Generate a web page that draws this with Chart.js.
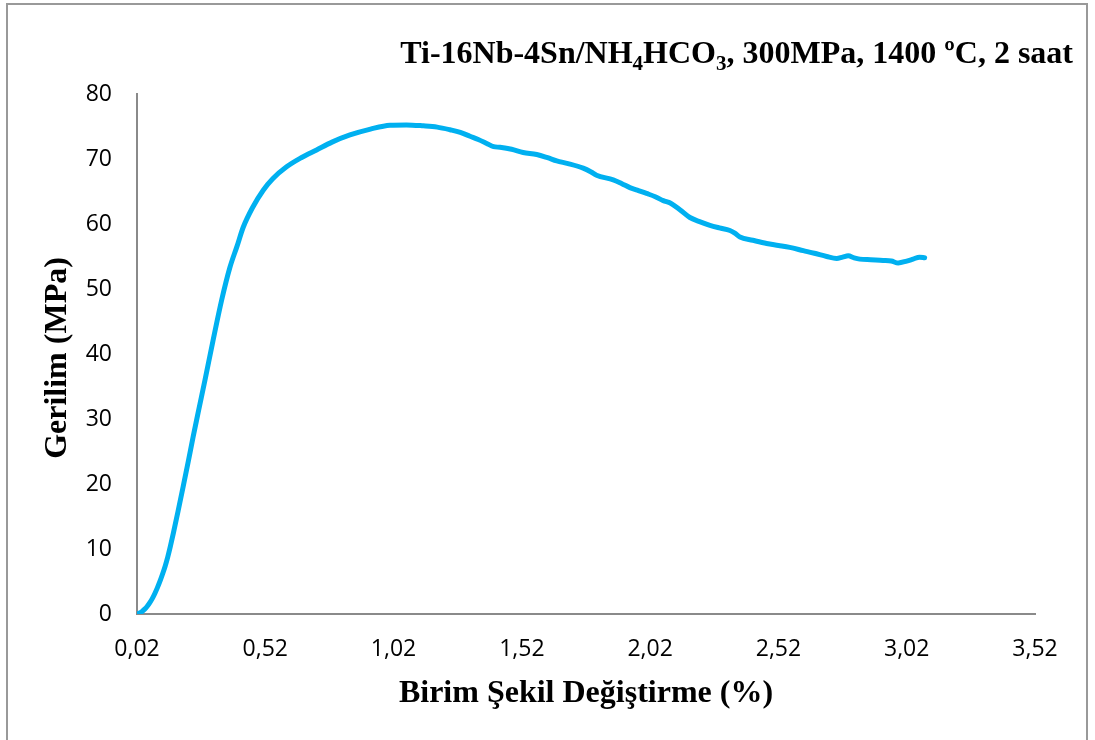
<!DOCTYPE html>
<html>
<head>
<meta charset="utf-8">
<script src="https://cdn.jsdelivr.net/npm/chart.js@4.4.1/dist/chart.umd.min.js"></script>
<style>
  html, body { margin: 0; padding: 0; background: #ffffff; }
  #wrap { width: 1095px; height: 740px; position: relative; }
</style>
</head>
<body>
<div id="wrap"><canvas id="c" width="1095" height="740"></canvas></div>
<script>
// Strain (%) and stress (MPa) readings of the compression test
const strain = [
  0.02, 0.03, 0.04, 0.05, 0.06, 0.07, 0.08, 0.09, 0.10, 0.11,
  0.12, 0.13, 0.14, 0.15, 0.1615, 0.18, 0.20,
  0.22, 0.239, 0.26, 0.285, 0.316, 0.35, 0.382, 0.41, 0.434, 0.47,
  0.512, 0.55, 0.603, 0.66, 0.72, 0.78, 0.85, 0.93, 1.006, 1.07,
  1.136, 1.19, 1.24, 1.28, 1.318, 1.35, 1.383, 1.41, 1.435, 1.48,
  1.525, 1.578, 1.62, 1.656, 1.70, 1.759, 1.79, 1.811, 1.876, 1.91,
  1.941, 1.97, 2.006, 2.04, 2.071, 2.10, 2.136, 2.175, 2.21, 2.253,
  2.29, 2.331, 2.35, 2.37, 2.42, 2.474, 2.52, 2.564, 2.617, 2.66,
  2.708, 2.747, 2.77, 2.792, 2.815, 2.837, 2.88, 2.928, 2.96, 2.987,
  3.02, 3.045, 3.07, 3.09
];
const stress = [
  0, 0.15, 0.4, 0.75, 1.2, 1.75, 2.4, 3.2, 4.1, 5.1,
  6.2, 7.4, 8.8, 10.4, 12.4, 15.8, 19.6,
  23.5, 27.3, 31.3, 36.0, 42.0, 48.3, 53.3, 56.6, 59.5, 62.5,
  65.2, 67.0, 68.8, 70.2, 71.4, 72.6, 73.7, 74.6, 75.2, 75.25,
  75.1, 74.9, 74.5, 74.1, 73.5, 73.0, 72.4, 71.9, 71.8, 71.5,
  71.0, 70.7, 70.2, 69.7, 69.3, 68.6, 68.0, 67.5, 66.8, 66.2,
  65.6, 65.2, 64.7, 64.2, 63.6, 63.2, 62.2, 61.0, 60.4, 59.8,
  59.4, 59.0, 58.6, 58.0, 57.5, 57.0, 56.7, 56.4, 55.9, 55.5,
  55.0, 54.7, 54.9, 55.1, 54.8, 54.6, 54.5, 54.4, 54.3, 54.0,
  54.3, 54.6, 54.9, 54.8
];
const xTicks = [0.02, 0.52, 1.02, 1.52, 2.02, 2.52, 3.02, 3.52];
const yTicks = [0, 10, 20, 30, 40, 50, 60, 70, 80];

const titleParts = [
  { text: 'Ti-16Nb-4Sn/NH', sub: false },
  { text: '4', sub: true },
  { text: 'HCO', sub: false },
  { text: '3', sub: true },
  { text: ', 300MPa, 1400 ºC, 2 saat', sub: false }
];
const xTitle = 'Birim Şekil Değiştirme (%)';
const yTitle = 'Gerilim (MPa)';

const AXIS_GRAY = '#8a8a8a';
const SERIF = '"Liberation Serif", "Times New Roman", serif';

// Frame, chart title with subscripts, and axis titles
const decorations = {
  id: 'decorations',
  afterDraw(chart) {
    const ctx = chart.ctx;
    const area = chart.chartArea;
    ctx.save();
    // outer frame
    ctx.strokeStyle = '#999999';
    ctx.lineWidth = 2;
    ctx.beginPath();
    ctx.moveTo(7, 745);
    ctx.lineTo(7, 4);
    ctx.lineTo(1087, 4);
    ctx.lineTo(1087, 745);
    ctx.stroke();

    ctx.fillStyle = '#000000';
    // title, right aligned
    const big = 'bold 32px ' + SERIF;
    const small = 'bold 21px ' + SERIF;
    let total = 0;
    titleParts.forEach(p => { ctx.font = p.sub ? small : big; total += ctx.measureText(p.text).width; });
    let x = 1073 - total;
    const base = 63;
    ctx.textBaseline = 'alphabetic';
    ctx.textAlign = 'left';
    titleParts.forEach(p => {
      ctx.font = p.sub ? small : big;
      ctx.fillText(p.text, x, p.sub ? base + 7 : base);
      x += ctx.measureText(p.text).width;
    });

    // x axis title
    ctx.font = big;
    ctx.textAlign = 'center';
    ctx.fillText(xTitle, (area.left + area.right) / 2, 702);

    // y axis title
    ctx.translate(66, (area.top + area.bottom) / 2 + 4);
    ctx.rotate(-Math.PI / 2);
    ctx.fillText(yTitle, 0, 0);
    ctx.restore();
  }
};

new Chart(document.getElementById('c'), {
  type: 'line',
  data: {
    datasets: [{
      data: strain.map((s, i) => ({ x: s, y: stress[i] })),
      borderColor: '#00B0F0',
      borderWidth: 5,
      borderCapStyle: 'round',
      borderJoinStyle: 'round',
      pointRadius: 0,
      cubicInterpolationMode: 'monotone',
      fill: false
    }]
  },
  options: {
    responsive: false,
    animation: false,
    layout: { padding: { left: 0, top: 94, right: 60, bottom: 0 } },
    plugins: { legend: { display: false }, tooltip: { enabled: false }, title: { display: false } },
    scales: {
      x: {
        type: 'linear',
        min: 0.02,
        max: 3.52,
        afterBuildTicks: s => { s.ticks = xTicks.map(v => ({ value: v })); },
        afterFit: s => { s.height = 126; },
        grid: { display: false, drawTicks: false },
        border: { display: true, color: AXIS_GRAY, width: 2 },
        ticks: {
          padding: 22,
          maxRotation: 0,
          autoSkip: false,
          color: '#000000',
          font: { family: '"Open Sans", sans-serif', size: 23 },
          callback: v => v.toFixed(2).replace('.', ',')
        }
      },
      y: {
        type: 'linear',
        min: 0,
        max: 80,
        afterBuildTicks: s => { s.ticks = yTicks.map(v => ({ value: v })); },
        afterFit: s => { s.width = 137; },
        grid: { display: false, drawTicks: false },
        border: { display: true, color: AXIS_GRAY, width: 2 },
        ticks: {
          padding: 25,
          autoSkip: false,
          color: '#000000',
          font: { family: '"Open Sans", sans-serif', size: 23 }
        }
      }
    }
  },
  plugins: [decorations]
});
</script>
</body>
</html>
